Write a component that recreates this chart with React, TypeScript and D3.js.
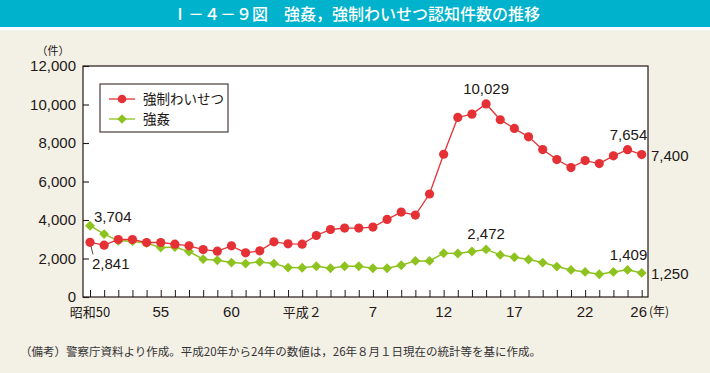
import { useEffect, useRef } from "react";
import * as d3 from "d3";

const years = d3.range(1975, 2015);
const indecency = [
  2841, 2694, 2986, 2986, 2830, 2830, 2746, 2658, 2465, 2380, 2658, 2293, 2397,
  2866, 2762, 2746, 3194, 3507, 3580, 3580, 3632, 4028, 4413, 4257, 5351, 7415,
  9328, 9500, 10029, 9208, 8755, 8321, 7660, 7139, 6722, 7087, 6931, 7332, 7654,
  7400,
];
const rape = [
  3704, 3267, 2918, 2900, 2798, 2570, 2590, 2361, 1964, 1912, 1788, 1735, 1824,
  1735, 1527, 1520, 1598, 1494, 1598, 1598, 1494, 1494, 1650, 1876, 1876, 2275,
  2258, 2361, 2472, 2188, 2066, 1946, 1788, 1580, 1407, 1302, 1181, 1302, 1409,
  1250,
];
const tickYears = [1975, 1980, 1985, 1990, 1995, 2000, 2005, 2010, 2014];
const tickLabels = ["昭和50", "55", "60", "平成２", "7", "12", "17", "22", "26"];
const yTicks = [0, 2000, 4000, 6000, 8000, 10000, 12000];

const RED = "#e53135";
const GREEN = "#8dc21f";
const NUM_FONT = "'Liberation Sans', Arial, sans-serif";
const JP_FONT = "'Noto Sans CJK JP', sans-serif";

function App() {
  const ref = useRef<SVGSVGElement>(null);

  useEffect(() => {
    const svg = d3.select(ref.current);
    svg.selectAll("*").remove();

    const left = 83,
      right = 648,
      top = 66,
      bottom = 297;

    const x = d3.scaleLinear().domain([1975, 2014]).range([90, 641.7]);
    const y = d3.scaleLinear().domain([0, 12000]).range([bottom, top]);

    svg.append("rect").attr("width", 710).attr("height", 373).attr("fill", "#f3f0e6");
    svg.append("rect").attr("width", 710).attr("height", 30).attr("fill", "#fff");
    svg.append("rect").attr("width", 710).attr("height", 27).attr("fill", "#00b2cb");
    svg
      .append("text")
      .attr("x", 356)
      .attr("y", 19.5)
      .attr("text-anchor", "middle")
      .attr("fill", "#fff")
      .attr("font-family", JP_FONT)
      .attr("font-weight", 500)
      .attr("font-size", 16)
      .text("Ⅰ－４－９図　強姦，強制わいせつ認知件数の推移");

    // plot frame
    svg
      .append("rect")
      .attr("x", left)
      .attr("y", top)
      .attr("width", right - left)
      .attr("height", bottom - top)
      .attr("fill", "#fff")
      .attr("stroke", "#231815")
      .attr("stroke-width", 1.2);

    // y axis
    const yAxis = svg
      .append("g")
      .attr("transform", `translate(${left},0)`)
      .call(
        d3
          .axisRight(y)
          .tickValues(yTicks)
          .tickSize(6)
          .tickFormat(() => "")
      );
    yAxis.select(".domain").remove();
    yAxis.selectAll("line").attr("stroke", "#231815").attr("stroke-width", 1.1);

    svg
      .append("g")
      .selectAll("text")
      .data(yTicks)
      .join("text")
      .attr("x", 76)
      .attr("y", (d) => y(d) + 5)
      .attr("text-anchor", "end")
      .attr("font-family", NUM_FONT)
      .attr("font-size", 15)
      .attr("fill", "#231815")
      .text((d) => d3.format(",")(d));

    svg
      .append("text")
      .attr("x", 53)
      .attr("y", 55)
      .attr("text-anchor", "middle")
      .attr("font-family", JP_FONT)
      .attr("font-size", 11)
      .attr("fill", "#231815")
      .text("（件）");

    // x axis
    const xAxis = svg
      .append("g")
      .attr("transform", `translate(0,${bottom})`)
      .call(
        d3
          .axisTop(x)
          .tickValues(years)
          .tickSize(7)
          .tickFormat(() => "")
      );
    xAxis.select(".domain").remove();
    xAxis.selectAll("line").attr("stroke", "#231815").attr("stroke-width", 1);

    svg
      .append("g")
      .selectAll("text")
      .data(tickYears)
      .join("text")
      .attr("x", (d) => x(d) - (d === 2014 ? 3 : 0))
      .attr("y", 317)
      .attr("text-anchor", "middle")
      .attr("font-family", (d, i) => (i === 0 || i === 3 ? JP_FONT : NUM_FONT))
      .attr("font-size", (d, i) => (i === 0 || i === 3 ? 13 : 15))
      .attr("fill", "#231815")
      .text((d, i) => tickLabels[i]);
    svg
      .append("text")
      .attr("x", 649)
      .attr("y", 316)
      .attr("font-family", JP_FONT)
      .attr("font-size", 12)
      .attr("fill", "#231815")
      .text("(年)");

    const line = d3
      .line<number>()
      .x((d, i) => x(years[i]))
      .y((d) => y(d));

    // green series
    svg
      .append("path")
      .attr("d", line(rape))
      .attr("fill", "none")
      .attr("stroke", GREEN)
      .attr("stroke-width", 1.5);
    svg
      .append("g")
      .selectAll("path")
      .data(rape)
      .join("path")
      .attr("d", d3.symbol(d3.symbolDiamond2, 62)())
      .attr("transform", (d, i) => `translate(${x(years[i])},${y(d)})`)
      .attr("fill", GREEN);

    // red series
    svg
      .append("path")
      .attr("d", line(indecency))
      .attr("fill", "none")
      .attr("stroke", RED)
      .attr("stroke-width", 1.3);
    svg
      .append("g")
      .selectAll("circle")
      .data(indecency)
      .join("circle")
      .attr("cx", (d, i) => x(years[i]))
      .attr("cy", (d) => y(d))
      .attr("r", 4.6)
      .attr("fill", RED);

    // value labels
    const label = (tx: number, ty: number, t: string, anchor = "start") =>
      svg
        .append("text")
        .attr("x", tx)
        .attr("y", ty)
        .attr("text-anchor", anchor)
        .attr("font-family", NUM_FONT)
        .attr("font-size", 15)
        .attr("fill", "#231815")
        .text(t);

    const fmt = d3.format(",");
    const iPeak = years.indexOf(2003);
    const iLast2 = years.indexOf(2013);
    const iEnd = years.length - 1;
    label(x(1975) + 4, y(rape[0]) - 4, fmt(rape[0]));
    label(x(1975) + 2, y(indecency[0]) + 27, fmt(indecency[0]));
    svg
      .append("line")
      .attr("x1", x(1975) + 1)
      .attr("y1", y(indecency[0]) + 4)
      .attr("x2", x(1975) + 3)
      .attr("y2", y(indecency[0]) + 12)
      .attr("stroke", "#231815")
      .attr("stroke-width", 0.8);
    label(x(2003), y(indecency[iPeak]) - 10, fmt(indecency[iPeak]), "middle");
    label(x(2003), y(rape[iPeak]) - 10, fmt(rape[iPeak]), "middle");
    label(x(2013) + 1, y(indecency[iLast2]) - 10, fmt(indecency[iLast2]), "middle");
    label(x(2013) + 1, y(rape[iLast2]) - 10, fmt(rape[iLast2]), "middle");
    label(651, y(indecency[iEnd]) + 6, fmt(indecency[iEnd]));
    label(651, y(rape[iEnd]) + 6, fmt(rape[iEnd]));

    // legend
    const lg = svg.append("g").attr("transform", "translate(100,84)");
    lg.append("rect")
      .attr("width", 128)
      .attr("height", 48)
      .attr("fill", "#fff")
      .attr("stroke", "#231815")
      .attr("stroke-width", 1);
    const items = [
      { name: "強制わいせつ", color: RED, shape: "circle" },
      { name: "強姦", color: GREEN, shape: "diamond" },
    ];
    items.forEach((it, i) => {
      const cy = 15 + i * 20;
      lg.append("line")
        .attr("x1", 9)
        .attr("x2", 35)
        .attr("y1", cy)
        .attr("y2", cy)
        .attr("stroke", it.color)
        .attr("stroke-width", 1.3);
      if (it.shape === "circle") {
        lg.append("circle").attr("cx", 22).attr("cy", cy).attr("r", 4.3).attr("fill", it.color);
      } else {
        lg.append("path")
          .attr("d", d3.symbol(d3.symbolDiamond2, 55)())
          .attr("transform", `translate(22,${cy})`)
          .attr("fill", it.color);
      }
      lg.append("text")
        .attr("x", 43)
        .attr("y", cy + 5)
        .attr("font-family", JP_FONT)
        .attr("font-size", 13.5)
        .attr("fill", "#231815")
        .text(it.name);
    });

    svg
      .append("text")
      .attr("x", 20)
      .attr("y", 356)
      .attr("font-family", JP_FONT)
      .attr("font-size", 11.5)
      .attr("fill", "#333")
      .text("（備考）警察庁資料より作成。平成20年から24年の数値は，26年８月１日現在の統計等を基に作成。");
  }, []);

  return (
    <svg
      ref={ref}
      width={710}
      height={373}
      style={{ position: "absolute", left: 0, top: 0 }}
    />
  );
}

export default App;
